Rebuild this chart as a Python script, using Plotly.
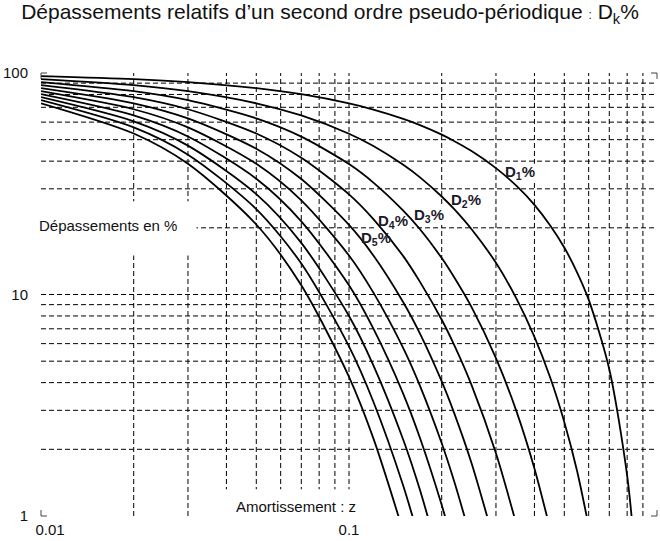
import math
import plotly.graph_objects as go

# damping ratio z (shared x values)
z = [0.01, 0.02, 0.03, 0.05, 0.07, 0.1, 0.12, 0.15, 0.17, 0.2, 0.22, 0.25,
     0.3, 0.35, 0.4, 0.45, 0.5, 0.55, 0.6, 0.7, 0.8, 0.85, 0.9]

# overshoot D_k % (each curve stops once it leaves the plot)
d1 = [96.9, 93.9, 91.0, 85.4, 80.2, 72.9, 68.4, 62.1, 58.2, 52.7, 49.2, 44.4,
      37.2, 30.9, 25.4, 20.5, 16.3, 12.6, 9.48, 4.60, 1.52, 0.63, 0.15]
d2 = [93.9, 88.2, 82.8, 73.0, 64.3, 53.2, 46.8, 38.5, 33.8, 27.7, 24.2, 19.7,
      13.9, 9.56, 6.44, 4.22, 2.66, 1.60, 0.90]
d3 = [91.0, 82.8, 75.4, 62.4, 51.6, 38.8, 32.0, 23.9, 19.7, 14.6, 11.9, 8.77,
      5.16, 2.96, 1.64, 0.87]
d4 = [88.2, 77.8, 68.6, 53.3, 41.4, 28.3, 21.9, 14.9, 11.4, 7.69, 5.88, 3.90,
      1.92, 0.91]
d5 = [85.5, 73.0, 62.4, 45.5, 33.2, 20.6, 15.0, 9.23, 6.66, 4.05, 2.89, 1.73,
      0.72]
d6 = [82.8, 68.6, 56.8, 38.9, 26.6, 15.0, 10.2, 5.73, 3.87, 2.13, 1.42, 0.77]
d7 = [80.3, 64.4, 51.7, 33.3, 21.4, 11.0, 7.01, 3.56, 2.25, 1.12, 0.70]
d8 = [77.8, 60.5, 47.0, 28.4, 17.1, 8.00, 4.79, 2.21, 1.31, 0.59]
d9 = [75.4, 56.8, 42.8, 24.3, 13.8, 5.83, 3.28, 1.37, 0.76]
d10 = [73.0, 53.3, 38.9, 20.7, 11.0, 4.25, 2.24, 0.85]

curves = [d1, d2, d3, d4, d5, d6, d7, d8, d9, d10]

# "0.01" sits a little right of the axis corner in the original
x_ticks = [0.0107, 0.1, 1]
x_tick_text = ["0.01", "0.1", "1"]
y_ticks = [1, 10, 100]
y_tick_text = ["1", "10", "100"]
x_grid = [0.02, 0.03, 0.04, 0.05, 0.06, 0.07, 0.08, 0.09, 0.1,
          0.2, 0.3, 0.4, 0.5, 0.6, 0.7, 0.8, 0.9]
y_grid = [2, 3, 4, 5, 6, 7, 8, 9, 10, 20, 30, 40, 50, 60, 70, 80, 90]

FONT = "Liberation Sans, Arial, sans-serif"
X_RANGE = [-2, 0]
Y_RANGE = [0, 2]

# plot area in pixels: x 39..657, y 73..522
L, R, T, B = 39, 657, 73, 522


def px(x):
    return (x - L) / (R - L)


def py(y):
    return (B - y) / (B - T)


fig = go.Figure()
for d in curves:
    fig.add_trace(go.Scatter(
        x=z[:len(d)], y=d, mode="lines",
        line=dict(color="black", width=1.8, shape="spline", smoothing=0.8),
        showlegend=False, hoverinfo="skip"))

shapes = []
# dashed grid (drawn as shapes so the label boxes can sit on top of it)
grid_line = dict(color="black", width=1, dash="5px,3px")
for v in x_grid:
    xp = (math.log10(v) - X_RANGE[0]) / (X_RANGE[1] - X_RANGE[0])
    shapes.append(dict(type="line", xref="paper", yref="paper", x0=xp, x1=xp,
                       y0=0, y1=1, line=grid_line, layer="below"))
for v in y_grid:
    yp = (math.log10(v) - Y_RANGE[0]) / (Y_RANGE[1] - Y_RANGE[0])
    shapes.append(dict(type="line", xref="paper", yref="paper", x0=0, x1=1,
                       y0=yp, y1=yp, line=grid_line, layer="below"))

# white boxes behind the labels (hide grid, keep curves)
boxes = [(39, 203, 195, 258), (220, 495, 362, 522),
         (500, 165, 541, 184), (445, 193, 486, 212), (409, 208, 447, 227),
         (374, 215, 411, 234), (356, 232, 393, 251)]
for x0, y0, x1, y1 in boxes:
    shapes.append(dict(type="rect", xref="paper", yref="paper",
                       x0=px(x0), x1=px(x1), y0=py(y1), y1=py(y0),
                       fillcolor="white", line=dict(width=0), layer="below"))

# little corner marks of the frame
dx, dy = 6 / (R - L), 6 / (B - T)
for cx, cy, sx, sy in [(0, 0, 1, 1), (0, 1, 1, -1), (1, 1, -1, -1), (1, 0, -1, 1)]:
    shapes.append(dict(type="line", xref="paper", yref="paper",
                       x0=cx, x1=cx + sx * dx, y0=cy, y1=cy,
                       line=dict(color="#444", width=1)))
    shapes.append(dict(type="line", xref="paper", yref="paper",
                       x0=cx, x1=cx, y0=cy, y1=cy + sy * dy,
                       line=dict(color="#444", width=1)))

labels = [("D<sub>1</sub>%", 520, 174), ("D<sub>2</sub>%", 465, 202),
          ("D<sub>3</sub>%", 428, 217), ("D<sub>4</sub>%", 392, 224),
          ("D<sub>5</sub>%", 375, 241)]
annotations = []
for text, ax, ay in labels:
    annotations.append(dict(text=text, xref="paper", yref="paper",
                            x=px(ax), y=py(ay), xanchor="center",
                            yanchor="middle", showarrow=False,
                            font=dict(size=15, color="#1a1a2a", family=FONT,
                                      weight="bold")))

annotations.append(dict(text="Dépassements en %", xref="paper", yref="paper",
                        x=px(35), y=py(228), xanchor="left", yanchor="middle",
                        showarrow=False,
                        font=dict(size=15, color="#111", family=FONT)))
annotations.append(dict(text="Amortissement : z", xref="paper", yref="paper",
                        x=px(295), y=py(512), xanchor="center",
                        yanchor="middle", showarrow=False,
                        font=dict(size=15, color="#111", family=FONT)))

fig.update_layout(
    width=660, height=541,
    margin=dict(l=L, r=660 - R, t=T, b=541 - B),
    paper_bgcolor="white", plot_bgcolor="white",
    font=dict(family=FONT, color="#111"),
    title=dict(text="Dépassements relatifs d’un second ordre pseudo-périodique"
                    " <span style='font-size:12px'>:</span> D<sub>k</sub>%",
               x=0.5, xanchor="center", y=1 - 12 / 541, yanchor="middle",
               font=dict(size=21, family=FONT, color="#111")),
    shapes=shapes, annotations=annotations,
)
fig.update_xaxes(
    type="log", range=X_RANGE, showline=False, zeroline=False,
    showgrid=False, tickvals=x_ticks, ticktext=x_tick_text, ticks="",
    tickfont=dict(size=15), ticklabelstandoff=3)
fig.update_yaxes(
    type="log", range=Y_RANGE, showline=False, zeroline=False,
    showgrid=False, tickvals=y_ticks, ticktext=y_tick_text, ticks="",
    tickfont=dict(size=15), ticklabelstandoff=12)

fig.write_html("out.html", config={"displayModeBar": False},
               post_script="document.body.style.margin = '0';")
